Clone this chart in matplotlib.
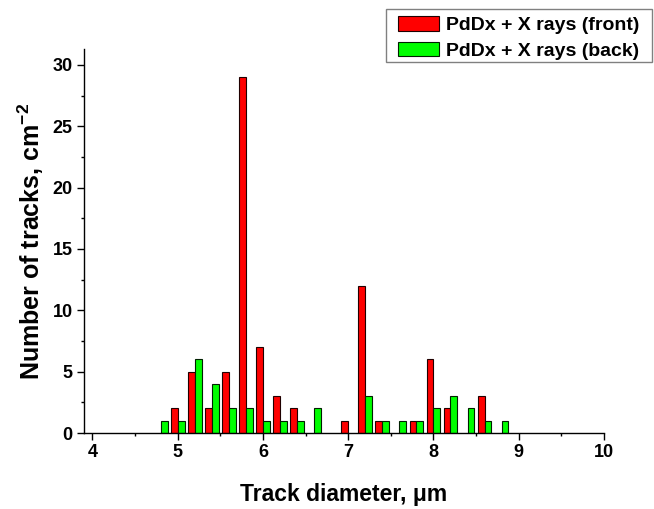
import numpy as np
import matplotlib
matplotlib.use("Agg")
import matplotlib.pyplot as plt
from matplotlib.patches import Rectangle
from matplotlib.ticker import MultipleLocator

plt.rcParams["font.family"] = ["Liberation Sans", "DejaVu Sans"]
plt.rcParams["font.weight"] = "bold"
plt.rcParams["mathtext.fontset"] = "custom"
plt.rcParams["mathtext.rm"] = "Liberation Sans:bold"
plt.rcParams["mathtext.bf"] = "Liberation Sans:bold"
plt.rcParams["mathtext.default"] = "bf"

# -------------------------------------------------------------------
# Data: track counts per diameter bin (um)
# -------------------------------------------------------------------
diameters = [4.8, 5.0, 5.2, 5.4, 5.6, 5.8, 6.0, 6.2, 6.4, 6.6, 6.8,
             7.0, 7.2, 7.4, 7.6, 7.8, 8.0, 8.2, 8.4, 8.6, 8.8]
front = [0, 2, 5, 2, 5, 29, 7, 3, 2, 0, 0,
         1, 12, 1, 0, 1, 6, 2, 0, 3, 0]
back = [1, 1, 6, 4, 2, 2, 1, 1, 1, 2, 0,
        0, 3, 1, 1, 1, 2, 3, 2, 1, 1]
labels = ["PdDx + X rays (front)", "PdDx + X rays (back)"]

W, H = 654, 509
fig = plt.figure(figsize=(W / 100, H / 100), dpi=100)
ax = fig.add_axes([0.1284, 0.1493, 0.795, 0.7544])

x = np.array(diameters)
f = np.array(front)
b = np.array(back)
w = 0.08

mf = f > 0
mb = b > 0
ax.bar(x[mf] - w / 2, f[mf], width=w, color="#FF0000", edgecolor="#200000",
       linewidth=0.8, label=labels[0])
ax.bar(x[mb] + w / 2, b[mb], width=w, color="#00FF00", edgecolor="#002000",
       linewidth=0.8, label=labels[1])

ax.set_xlim(3.9, 10.0)
ax.set_ylim(0, 31.3)
ax.xaxis.set_major_locator(MultipleLocator(1))
ax.xaxis.set_minor_locator(MultipleLocator(0.5))
ax.yaxis.set_major_locator(MultipleLocator(5))
ax.yaxis.set_minor_locator(MultipleLocator(2.5))
ax.tick_params(which="major", direction="out", length=5, width=1,
               labelsize=13, pad=3)
ax.tick_params(which="minor", direction="out", length=2.5, width=1)

for side in ("top", "right"):
    ax.spines[side].set_visible(False)
for side in ("left", "bottom"):
    ax.spines[side].set_linewidth(1)

ax.set_xlabel("Track diameter, μm", fontsize=16.5, fontweight="bold",
              labelpad=16)
ax.set_ylabel("Number of tracks, cm$^{-2}$", fontsize=18,
              fontweight="bold", labelpad=5)

# legend content without frame; frame drawn separately as a plain box
leg = fig.legend(loc="upper left", bbox_to_anchor=(398 / W, 1 - 16 / H),
                 fontsize=14, frameon=False, borderpad=0,
                 handlelength=2.1, handleheight=0.8, handletextpad=0.36,
                 labelspacing=0.38, borderaxespad=0)
for t in leg.get_texts():
    t.set_fontweight("bold")

fig.patches.append(Rectangle((386 / W, 1 - 62 / H), 266 / W, 53 / H,
                             transform=fig.transFigure, fill=False,
                             edgecolor="#808080", linewidth=1))

fig.savefig("out.png", dpi=100)
